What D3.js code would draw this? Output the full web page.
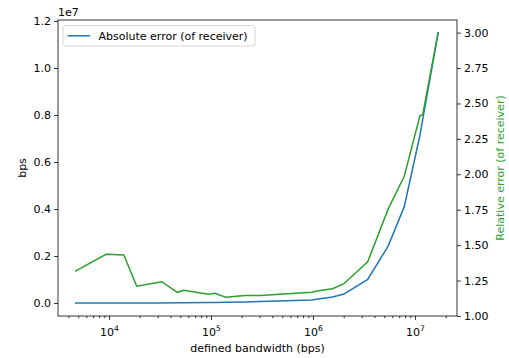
<!DOCTYPE html>
<html>
<head>
<meta charset="utf-8">
<script src="https://cdn.jsdelivr.net/npm/d3@7"></script>
<style>
  body { margin: 0; background: #fff; }
  text { font-family: "DejaVu Sans", sans-serif; }
</style>
</head>
<body>
<div id="chart"></div>
<script>
// defined bandwidth (bps)
var bandwidth = [4640, 9350, 13970, 18700, 32900, 46800, 54400, 94100, 109500, 139000,
                 215000, 302000, 970000, 1170000, 1560000, 2010000, 3440000, 5470000,
                 7850000, 11200000, 11900000, 16900000];
// absolute error (bps)
var absError = [0, 0, 0, 0, 5e3, 1e4, 1e4, 2e4, 2e4, 3e4,
                4e4, 6e4, 1.3e5, 1.8e5, 2.6e5, 3.8e5, 1.0e6, 2.43e6,
                4.1e6, 7.15e6, 7.8e6, 1.152e7];
// relative error
var relError = [1.315, 1.435, 1.43, 1.21, 1.242, 1.167, 1.181, 1.153, 1.16, 1.132,
                1.144, 1.144, 1.167, 1.18, 1.193, 1.228, 1.383, 1.756,
                1.986, 2.415, 2.42, 3.003];
var leftTicks = [0, 0.2e7, 0.4e7, 0.6e7, 0.8e7, 1.0e7, 1.2e7];
var rightTicks = [1.0, 1.25, 1.5, 1.75, 2.0, 2.25, 2.5, 2.75, 3.0];
var xTicks = [1e4, 1e5, 1e6, 1e7];

(function() {
    var width = 509, height = 358;
    var pLeft = 58, pRight = 457, pTop = 20, pBottom = 316;
    var blue = "#1f77b4", green = "#2ca02c";

    var data = bandwidth.map(function(b, i) {
        return { bw: b, abs: absError[i], rel: relError[i] };
    });

    //
    // Scales
    //
    var x = d3.scaleLog().domain([Math.pow(10, 3.5), Math.pow(10, 7.412)]).range([pLeft, pRight]);
    var y = d3.scaleLinear().domain([-0.0553e7, 1.2043e7]).range([pBottom, pTop]);
    var y2 = d3.scaleLinear().domain([1.0, 3.089]).range([pBottom, pTop]);

    var svg = d3.select("#chart").append("svg")
        .attr("width", width)
        .attr("height", height);

    //
    // Lines
    //
    var absLine = d3.line()
        .x(function(d) { return x(d.bw); })
        .y(function(d) { return y(d.abs); });
    var relLine = d3.line()
        .x(function(d) { return x(d.bw); })
        .y(function(d) { return y2(d.rel); });

    svg.append("path").datum(data)
        .attr("fill", "none").attr("stroke", blue).attr("stroke-width", 1.5)
        .attr("d", absLine);
    svg.append("path").datum(data)
        .attr("fill", "none").attr("stroke", green).attr("stroke-width", 1.5)
        .attr("d", relLine);

    //
    // Axes
    //
    function styleAxis(g) {
        g.selectAll("path").remove();
        g.selectAll("line").attr("stroke", "#000").attr("stroke-width", 0.8);
        g.selectAll("text").attr("font-size", "11px").attr("fill", "#000")
            .attr("font-family", "DejaVu Sans, sans-serif");
    }

    var minorTicks = [];
    [1e3, 1e4, 1e5, 1e6, 1e7].forEach(function(p) {
        for (var k = 2; k < 10; k++) {
            var v = k * p;
            if (v > x.domain()[0] && v < x.domain()[1]) minorTicks.push(v);
        }
    });

    svg.append("g")
        .attr("transform", "translate(0," + pBottom + ")")
        .call(d3.axisBottom(x).tickValues(minorTicks).tickSize(2.2).tickFormat(""))
        .call(styleAxis);

    var xAxis = svg.append("g")
        .attr("transform", "translate(0," + pBottom + ")")
        .call(d3.axisBottom(x).tickValues(xTicks).tickSize(3.9).tickFormat(""))
        .call(styleAxis);
    xAxis.selectAll(".tick").append("text")
        .attr("y", 20)
        .attr("text-anchor", "middle")
        .attr("font-size", "11px")
        .attr("fill", "#000")
        .each(function(d) {
            var t = d3.select(this);
            t.append("tspan").text("10");
            t.append("tspan").attr("font-size", "7.7px").attr("dy", "-5")
                .text(Math.round(Math.log10(d)));
        });

    svg.append("g")
        .attr("transform", "translate(" + pLeft + ",0)")
        .call(d3.axisLeft(y).tickValues(leftTicks).tickSize(3.9).tickPadding(3)
            .tickFormat(function(d) { return (d / 1e7).toFixed(1); }))
        .call(styleAxis);

    svg.append("g")
        .attr("transform", "translate(" + pRight + ",0)")
        .call(d3.axisRight(y2).tickValues(rightTicks).tickSize(3.9).tickPadding(3)
            .tickFormat(d3.format(".2f")))
        .call(styleAxis);

    // spines
    svg.append("rect")
        .attr("x", pLeft).attr("y", pTop)
        .attr("width", pRight - pLeft).attr("height", pBottom - pTop)
        .attr("fill", "none").attr("stroke", "#000").attr("stroke-width", 0.8);

    //
    // Labels
    //
    svg.append("text").attr("x", pLeft).attr("y", 16)
        .attr("font-size", "11px").text("1e7");

    svg.append("text")
        .attr("x", (pLeft + pRight) / 2).attr("y", 352)
        .attr("text-anchor", "middle").attr("font-size", "11px")
        .text("defined bandwidth (bps)");

    svg.append("text")
        .attr("transform", "translate(26," + (pTop + pBottom) / 2 + ") rotate(-90)")
        .attr("text-anchor", "middle").attr("font-size", "11px")
        .text("bps");

    svg.append("text")
        .attr("transform", "translate(504," + (pTop + pBottom) / 2 + ") rotate(-90)")
        .attr("text-anchor", "middle").attr("font-size", "11px")
        .attr("fill", green)
        .text("Relative error (of receiver)");

    //
    // Legend
    //
    var legend = svg.append("g").attr("transform", "translate(63,25.5)");
    legend.append("rect")
        .attr("width", 192).attr("height", 20.5).attr("rx", 2.5)
        .attr("fill", "#fff").attr("fill-opacity", 0.8)
        .attr("stroke", "#ccc").attr("stroke-width", 0.8);
    legend.append("line")
        .attr("x1", 4.5).attr("x2", 27).attr("y1", 10.3).attr("y2", 10.3)
        .attr("stroke", blue).attr("stroke-width", 1.5);
    legend.append("text")
        .attr("x", 35.5).attr("y", 14.3)
        .attr("font-size", "11px")
        .text("Absolute error (of receiver)");
})();
</script>
</body>
</html>
